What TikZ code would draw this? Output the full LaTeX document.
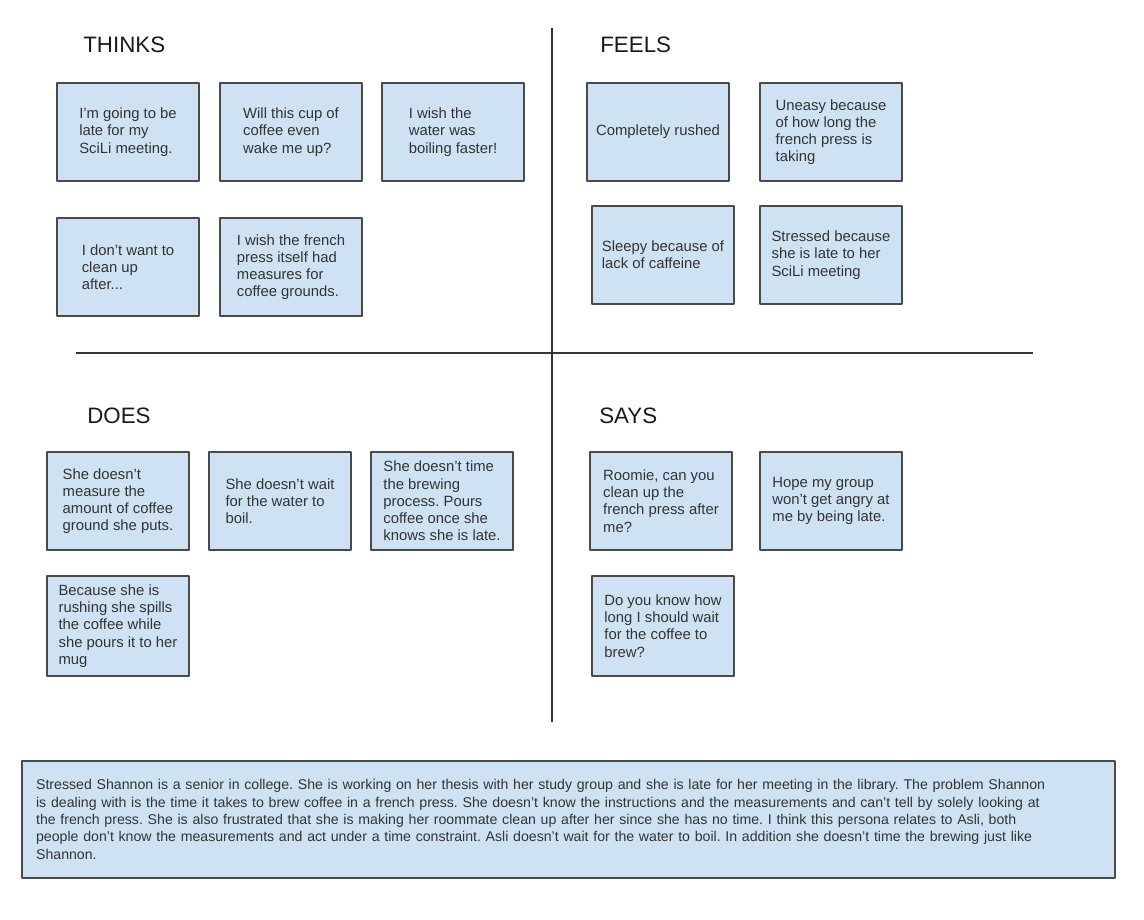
\documentclass[tikz,border=0pt]{standalone}
\usepackage{fontspec}
\setmainfont{Liberation Sans}
\frenchspacing
\definecolor{notefill}{HTML}{CFE2F3}
\definecolor{noteline}{HTML}{4A4A4A}
\definecolor{notetext}{HTML}{333333}
\begin{document}
\begin{tikzpicture}[x=0.02cm, y=-0.02cm, line join=round,
		note/.style={draw=noteline, line width=0.9pt, fill=notefill, text=notetext, inner sep=0pt,
			minimum width=2.84cm, minimum height=1.96cm, align=left, font=\fontsize{8.45}{9.8}\selectfont},
		head/.style={anchor=west, inner sep=0pt, text=black!90, font=\fontsize{12.7}{14}\selectfont}]
	\useasboundingbox (0,0) rectangle (1144,920);
	% quadrant lines
	\coordinate (vtop) at (552,28); \coordinate (vbot) at (552,722);
	\coordinate (hleft) at (76,353); \coordinate (hright) at (1033,353);
	\draw[line width=1pt, black!80] (vtop)--(vbot);
	\draw[line width=1pt, black!80] (hleft)--(hright);
	% headings
	\node[head] (thinks) at (83,45) {THINKS};
	\node[head] (feels) at (600,45) {FEELS};
	\node[head] (does) at (87,415.5) {DOES};
	\node[head] (says) at (599,415.5) {SAYS};
	% thinks
	\node[note] (t1) at (128,132) {I'm going to be\\late for my\\SciLi meeting.};
	\node[note] (t2) at (291,132) {Will this cup of\\coffee even\\wake me up?};
	\node[note] (t3) at (453,132) {I wish the\\water was\\boiling faster!};
	\node[note] (t4) at (128,267) {I don’t want to\\clean up\\after...};
	\node[note] (t5) at (291,267) {I wish the french\\press itself had\\measures for\\coffee grounds.};
	% feels
	\node[note] (f1) at (658,132) {Completely rushed};
	\node[note] (f2) at (831,132) {Uneasy because\\of how long the\\french press is\\taking};
	\node[note] (f3) at (663,255) {Sleepy because of\\lack of caffeine};
	\node[note] (f4) at (831,255) {Stressed because\\she is late to her\\SciLi meeting};
	% does
	\node[note] (d1) at (118,501) {She doesn’t\\measure the\\amount of coffee\\ground she puts.};
	\node[note] (d2) at (280,501) {She doesn’t wait\\for the water to\\boil.};
	\node[note] (d3) at (442,501) {She doesn’t time\\the brewing\\process. Pours\\coffee once she\\knows she is late.};
	\node[note, minimum height=2cm] (d4) at (118,626) {Because she is\\rushing she spills\\the coffee while\\she pours it to her\\mug};
	% says
	\node[note] (s1) at (661,501) {Roomie, can you\\clean up the\\french press after\\me?};
	\node[note] (s2) at (831,501) {Hope my group\\won’t get angry at\\me by being late.};
	\node[note, minimum height=2cm] (s3) at (663,626) {Do you know how\\long I should wait\\for the coffee to\\brew?};
	% persona summary
	\node[note, minimum width=21.86cm, minimum height=2.34cm, text width=21.3cm, inner xsep=0.28cm,
		font=\fontsize{8.05}{9.9}\selectfont] (summary) at (568.5,819.5)
		{Stressed Shannon is a senior in college. She is working on her thesis with her study group and she is late for her meeting in the library. The problem Shannon\\
		is dealing with is the time it takes to brew coffee in a french press. She doesn’t know the instructions and the measurements and can’t tell by solely looking at\\
		the french press. She is also frustrated that she is making her roommate clean up after her since she has no time. I think this persona relates to Asli, both\\
		people don’t know the measurements and act under a time constraint. Asli doesn’t wait for the water to boil. In addition she doesn’t time the brewing just like\\
		Shannon.};
\end{tikzpicture}
\end{document}
